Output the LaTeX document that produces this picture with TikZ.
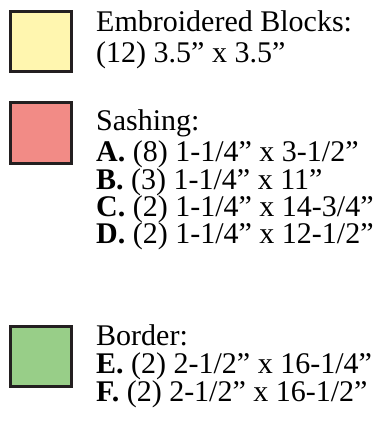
\documentclass[tikz,border=0pt]{standalone}
\usepackage{fontspec}
\setmainfont{Liberation Serif}
\definecolor{blockyellow}{RGB}{255,246,175}
\definecolor{sashred}{RGB}{242,139,134}
\definecolor{bordergreen}{RGB}{152,206,136}
\definecolor{edgegray}{RGB}{35,31,32}
\tikzset{
	swatch/.style={draw=edgegray,line width=3pt},
	cutline/.style={anchor=base west,inner sep=0pt,text height=20pt,text depth=6pt,
		font=\fontsize{30}{30}\selectfont}
}

\begin{document}
\begin{tikzpicture}[x=1pt,y=-1pt]
	\useasboundingbox (0,0) rectangle (381,422);
	% swatches
	\path[swatch,fill=blockyellow] (10,12) rectangle (71,72);
	\path[swatch,fill=sashred] (10,103) rectangle (71,163);
	\path[swatch,fill=bordergreen] (10,326) rectangle (71,386);
	% embroidered blocks
	\node[cutline] (blocks) at (96,32) {Embroidered Blocks:};
	\node[cutline] (blocksize) at (96,63) {(12) 3.5'' x 3.5''};
	% sashing
	\node[cutline] (sashing) at (96,131) {Sashing:};
	\node[cutline] (sashA) at (96,161) {\textbf{A.} (8) 1-1/4'' x 3-1/2''};
	\node[cutline] (sashB) at (96,189) {\textbf{B.} (3) 1-1/4'' x 11''};
	\node[cutline] (sashC) at (96,216) {\textbf{C.} (2) 1-1/4'' x 14-3/4''};
	\node[cutline] (sashD) at (96,243) {\textbf{D.} (2) 1-1/4'' x 12-1/2''};
	% border
	\node[cutline] (border) at (96,345) {Border:};
	\node[cutline] (borderE) at (96,373) {\textbf{E.} (2) 2-1/2'' x 16-1/4''};
	\node[cutline] (borderF) at (96,401) {\textbf{F.} (2) 2-1/2'' x 16-1/2''};
\end{tikzpicture}
\end{document}
